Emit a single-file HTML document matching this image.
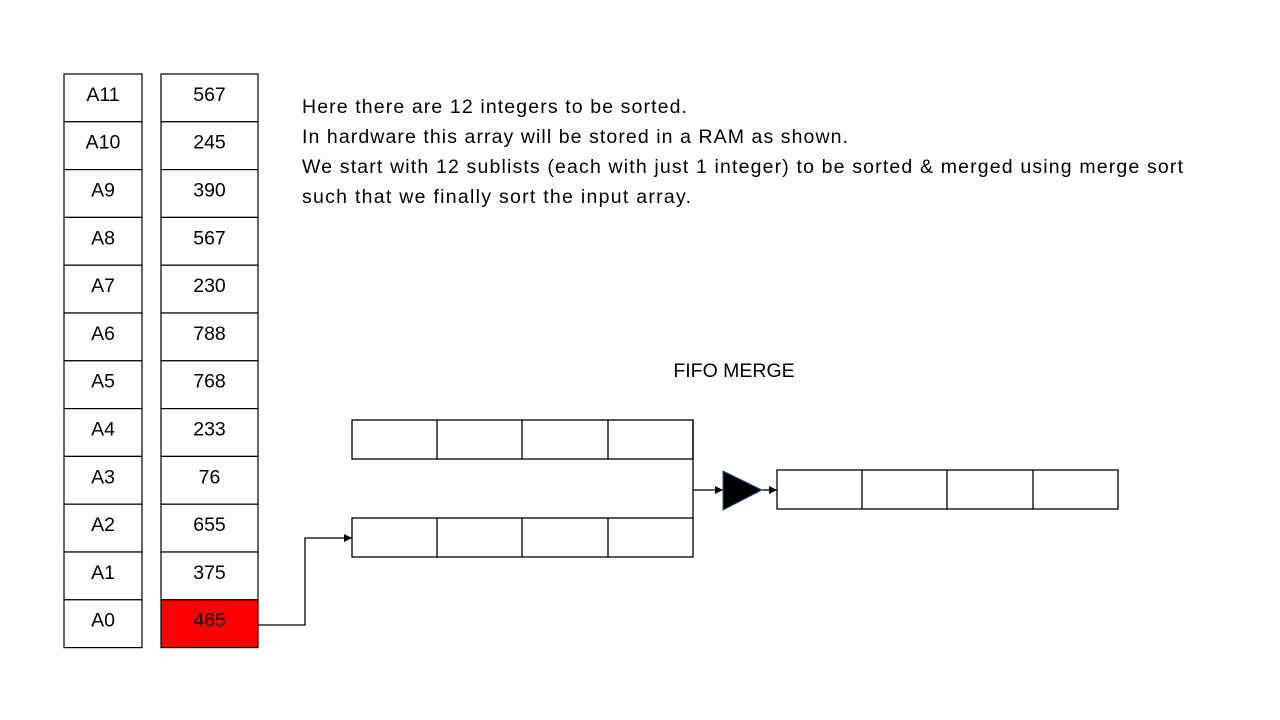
<!DOCTYPE html>
<html><head><meta charset="utf-8"><style>
html,body{margin:0;padding:0;background:#fff;width:1280px;height:720px;overflow:hidden}
svg{display:block}
text{font-family:"Liberation Sans",sans-serif;fill:#000}
</style></head><body>
<svg id="s" width="1280" height="720" viewBox="0 0 1280 720">
<g id="tables"></g>
<g font-size="19.5">
<text x="302" y="113" textLength="385" lengthAdjust="spacing">Here there are 12 integers to be sorted.</text>
<text x="302" y="143" textLength="546" lengthAdjust="spacing">In hardware this array will be stored in a RAM as shown.</text>
<text x="302" y="173" textLength="881" lengthAdjust="spacing">We start with 12 sublists (each with just 1 integer) to be sorted &amp; merged using merge sort</text>
<text x="302" y="203" textLength="389" lengthAdjust="spacing">such that we finally sort the input array.</text>
</g>
<text x="734" y="377" font-size="19.5" text-anchor="middle">FIFO MERGE</text>
<defs><marker id="ah" markerWidth="8" markerHeight="8" refX="8" refY="4" orient="auto" markerUnits="userSpaceOnUse"><path d="M0,0 L8,4 L0,8 z" fill="#000"/></marker></defs>
<g fill="none" stroke="#000" stroke-width="1.3">
<g>
<rect x="352" y="420" width="341" height="39"/><line x1="437" y1="420" x2="437" y2="459"/><line x1="522" y1="420" x2="522" y2="459"/><line x1="608" y1="420" x2="608" y2="459"/></g>
<g>
<rect x="352" y="518" width="341" height="39"/><line x1="437" y1="518" x2="437" y2="557"/><line x1="522" y1="518" x2="522" y2="557"/><line x1="608" y1="518" x2="608" y2="557"/></g>
<g>
<rect x="777" y="470" width="341" height="39"/><line x1="862" y1="470" x2="862" y2="509"/><line x1="947" y1="470" x2="947" y2="509"/><line x1="1033" y1="470" x2="1033" y2="509"/></g>
<line x1="693" y1="420" x2="693" y2="518"/>
<line x1="693" y1="490" x2="723" y2="490" marker-end="url(#ah)"/>
<line x1="762" y1="490" x2="777" y2="490" marker-end="url(#ah)"/>
<polyline points="258,625 305,625 305,538 352,538" marker-end="url(#ah)"/>
</g>
<polygon points="723,471 762,490 723,510" fill="#000" stroke="#2f4f8f" stroke-width="1"/>
</svg>
<script>
const labels=["A11","A10","A9","A8","A7","A6","A5","A4","A3","A2","A1","A0"];
const values=[567,245,390,567,230,788,768,233,76,655,375,465];
const highlightIndex=11;
const g=document.getElementById('tables');
const NS="http://www.w3.org/2000/svg";
const top0=74,rowH=47.8;
function mk(tag,attrs){const e=document.createElementNS(NS,tag);for(const k in attrs)e.setAttribute(k,attrs[k]);return e;}
labels.forEach((lab,i)=>{
  const y=top0+i*rowH;
  const c1=mk('rect',{x:64,y:y,width:78,height:rowH,fill:'#fff',stroke:'#000','stroke-width':1.2});
  
  
  g.appendChild(c1);
  const t1=mk('text',{x:103,y:y+rowH/2+3,'text-anchor':'middle','font-size':19.5});
  t1.textContent=lab;
  
  
  g.appendChild(t1);
  const c2=mk('rect',{x:161,y:y,width:97,height:rowH,fill:i===highlightIndex?'#ff0000':'#fff',stroke:'#000','stroke-width':1.2});
  
  
  g.appendChild(c2);
  const t2=mk('text',{x:209.5,y:y+rowH/2+3,'text-anchor':'middle','font-size':19.5});
  t2.textContent=values[i];
  
  
  g.appendChild(t2);
});
</script>
</body></html>
